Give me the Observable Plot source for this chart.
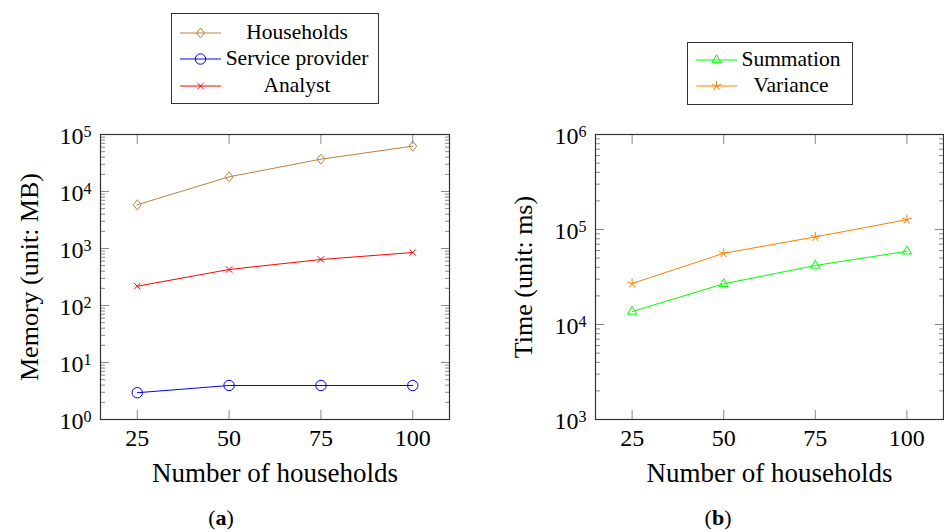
<!DOCTYPE html>
<html>
<head>
<meta charset="utf-8">
<script src="https://cdn.jsdelivr.net/npm/d3@7"></script>
<script src="https://cdn.jsdelivr.net/npm/@observablehq/plot@0.6"></script>
<style>
  body { margin: 0; background: #fff; }
  #page { position: relative; width: 944px; height: 532px; overflow: hidden;
          font-family: "Liberation Serif", "Times New Roman", serif; color: #000; background: #fff; }
  #page svg.plot { position: absolute; top: 0; }
  #page svg text { font-family: "Liberation Serif", "Times New Roman", serif !important; font-variant: normal !important; }
  .legend { position: absolute; border: 1.3px solid #333; box-sizing: border-box; background: #fff; }
  .lt { position: absolute; transform: translate(-50%, -50%); font-size: 21.5px; white-space: nowrap; line-height: 1; }
  .sw { position: absolute; transform: translate(0, -50%); overflow: visible; }
  .cap { position: absolute; transform: translate(-50%, -50%); font-size: 22px; line-height: 1; white-space: nowrap; }
</style>
</head>
<body>
<div id="page"></div>
<script>
// ---------- data ----------
const households = [25, 50, 75, 100];
const memHouseholds = [5850, 18100, 36900, 62400];
const memProvider = [2.95, 3.95, 3.95, 3.95];
const memAnalyst = [218, 428, 641, 851];
const timeSummation = [13700, 26800, 41800, 59000];
const timeVariance = [27000, 56200, 83600, 127000];

const xTicks = [25, 50, 75, 100];
const memTicks = [1, 10, 100, 1000, 10000, 100000];
const timeTicks = [1000, 10000, 100000, 1000000];
const minorMultipliers = [2, 3, 4, 5, 6, 7, 8, 9];

const seriesMemory = ["Households", "Service provider", "Analyst"];
const seriesTime = ["Summation", "Variance"];

// ---------- symbols (pgfplots-like) ----------
const symDiamond = {draw(c, size) { const r = Math.sqrt(size / Math.PI);
  c.moveTo(0, -r); c.lineTo(0.8 * r, 0); c.lineTo(0, r); c.lineTo(-0.8 * r, 0); c.closePath(); }};
const symTimes = {draw(c, size) { const r = Math.sqrt(size / Math.PI);
  c.moveTo(-r, -r); c.lineTo(r, r); c.moveTo(-r, r); c.lineTo(r, -r); }};
const symTriangle = {draw(c, size) { const r = Math.sqrt(size / Math.PI);
  c.moveTo(0, -r); c.lineTo(0.866 * r, 0.5 * r); c.lineTo(-0.866 * r, 0.5 * r); c.closePath(); }};
const symStar = {draw(c, size) { const r = Math.sqrt(size / Math.PI);
  for (let k = 0; k < 5; k++) { const a = -Math.PI / 2 + k * 2 * Math.PI / 5;
    c.moveTo(0, 0); c.lineTo(r * Math.cos(a), r * Math.sin(a)); } }};
const symCircle = {draw(c, size) { const r = Math.sqrt(size / Math.PI);
  c.moveTo(r, 0); c.arc(0, 0, r, 0, 2 * Math.PI); }};

const styleMem = [
  {name: seriesMemory[0], values: memHouseholds, color: "#bf8040", symbol: symDiamond, r: 5},
  {name: seriesMemory[1], values: memProvider, color: "#0000ff", symbol: symCircle, r: 5.2},
  {name: seriesMemory[2], values: memAnalyst, color: "#ff0000", symbol: symTimes, r: 3.2}
];
const styleTime = [
  {name: seriesTime[0], values: timeSummation, color: "#00ff00", symbol: symTriangle, r: 5.3},
  {name: seriesTime[1], values: timeVariance, color: "#ff8000", symbol: symStar, r: 5}
];

function minorTicks(majors) {
  const out = [];
  for (let i = 0; i < majors.length - 1; i++) for (const m of minorMultipliers) out.push(majors[i] * m);
  return out;
}

function seriesMarks(list) {
  const marks = [];
  for (const s of list) {
    const rows = households.map((h, i) => ({n: h, v: s.values[i]}));
    marks.push(Plot.line(rows, {x: "n", y: "v", stroke: s.color, strokeWidth: 1}));
    marks.push(Plot.dot(rows, {x: "n", y: "v", symbol: s.symbol, r: s.r, stroke: s.color, fill: "none", strokeWidth: 1}));
  }
  return marks;
}

function tickMarks(major, minor) {
  const t = {tickFormat: () => "", label: null, stroke: "#8a8a8a", strokeWidth: 1};
  return [
    Plot.axisY({...t, anchor: "left", ticks: major, tickSize: 9, dx: 9}),
    Plot.axisY({...t, anchor: "left", ticks: minor, tickSize: 5, dx: 5}),
    Plot.axisY({...t, anchor: "right", ticks: major, tickSize: 9, dx: -9}),
    Plot.axisY({...t, anchor: "right", ticks: minor, tickSize: 5, dx: -5}),
    Plot.axisX({...t, anchor: "bottom", ticks: xTicks, tickSize: 9, dy: -9}),
    Plot.axisX({...t, anchor: "top", ticks: xTicks, tickSize: 9, dy: 9})
  ];
}

const serif = "'Liberation Serif', 'Times New Roman', serif";

function makePlot({ml, mr, yDomain, yTicks, yLabel, list, yLabelOffset}) {
  return Plot.plot({
    width: 472, height: 532,
    marginLeft: ml, marginRight: mr, marginTop: 134, marginBottom: 113,
    x: {type: "linear", domain: [15, 110]},
    y: {type: "log", domain: yDomain},
    style: {fontFamily: serif, fontSize: "24px", background: "transparent", color: "#000"},
    marks: [
      ...tickMarks(yTicks, minorTicks(yTicks)),
      Plot.frame({stroke: "#333", strokeWidth: 1.2}),
      Plot.axisY({anchor: "left", ticks: yTicks, tickSize: 0, tickPadding: 9, dy: 2,
        tickFormat: d => "10^" + Math.round(Math.log10(d)),
        label: yLabel, labelAnchor: "center", labelArrow: "none", labelOffset: yLabelOffset,
        fontSize: 24, fontFamily: serif}),
      Plot.axisX({anchor: "bottom", ticks: xTicks, tickSize: 0, tickPadding: 9,
        tickFormat: d => String(d),
        label: "Number of households", labelAnchor: "center", labelArrow: "none", labelOffset: 62,
        fontSize: 24, fontFamily: serif}),
      ...seriesMarks(list)
    ]
  });
}

function postProcess(svg) {
  const s = d3.select(svg);
  s.attr("class", (s.attr("class") || "") + " plot");
  s.selectAll('g[aria-label="y-axis tick label"] text').each(function () {
    const m = this.textContent.match(/^10\^(-?\d+)$/);
    if (!m) return;
    const t = d3.select(this);
    t.text(null);
    t.append("tspan").text("10");
    t.append("tspan").attr("dy", "-0.45em").attr("font-size", "16px").text(m[1]);
  });
  const fix = function () {
    const txt = this.textContent.replace(/\s*[↑→←↓]\s*/g, "").trim();
    if (txt !== this.textContent) d3.select(this).text(txt);
  };
  s.selectAll('g[aria-label="y-axis label"]').attr("font-size", 26)
    .selectAll("text").attr("font-size", 26).each(fix);
  s.selectAll('g[aria-label="x-axis label"]').attr("font-size", 27)
    .selectAll("text").attr("font-size", 27).each(fix);
}

const page = document.getElementById("page");

const left = makePlot({ml: 100, mr: 23, yDomain: [1, 1e5], yTicks: memTicks,
  yLabel: "Memory (unit: MB)", list: styleMem, yLabelOffset: 81});
postProcess(left);
left.style.left = "0px";
page.appendChild(left);

const right = makePlot({ml: 123, mr: 1, yDomain: [1e3, 1e6], yTicks: timeTicks,
  yLabel: "Time (unit: ms)", list: styleTime, yLabelOffset: 82});
postProcess(right);
right.style.left = "472px";
page.appendChild(right);

// ---------- legends ----------
function legend({left, top, width, height, rows, lineX, textX}) {
  const box = document.createElement("div");
  box.className = "legend";
  Object.assign(box.style, {left: left + "px", top: top + "px", width: width + "px", height: height + "px"});
  rows.forEach(({s, y}) => {
    const sw = d3.create("svg").attr("class", "sw").attr("width", 42).attr("height", 14)
      .style("left", lineX + "px").style("top", y + "px");
    sw.append("line").attr("x1", 0).attr("x2", 41).attr("y1", 7).attr("y2", 7)
      .attr("stroke", s.color).attr("stroke-width", 1);
    sw.append("path").attr("transform", "translate(20.5,7)")
      .attr("d", d3.symbol(s.symbol, s.r * s.r * Math.PI)())
      .attr("fill", "none").attr("stroke", s.color).attr("stroke-width", 1);
    box.appendChild(sw.node());
    const t = document.createElement("div");
    t.className = "lt";
    t.textContent = s.name;
    Object.assign(t.style, {left: textX + "px", top: y + "px"});
    box.appendChild(t);
  });
  page.appendChild(box);
}

legend({left: 171, top: 13, width: 208, height: 91, lineX: 8, textX: 125,
  rows: [{s: styleMem[0], y: 19}, {s: styleMem[1], y: 45}, {s: styleMem[2], y: 72}]});
legend({left: 687, top: 42, width: 166, height: 63, lineX: 8, textX: 103,
  rows: [{s: styleTime[0], y: 17}, {s: styleTime[1], y: 43}]});

// ---------- captions ----------
function caption(html, x, y) {
  const c = document.createElement("div");
  c.className = "cap";
  c.innerHTML = html;
  Object.assign(c.style, {left: x + "px", top: y + "px"});
  page.appendChild(c);
}
caption("(<b>a</b>)", 221, 518);
caption("(<b>b</b>)", 718, 518);
</script>
</body>
</html>
